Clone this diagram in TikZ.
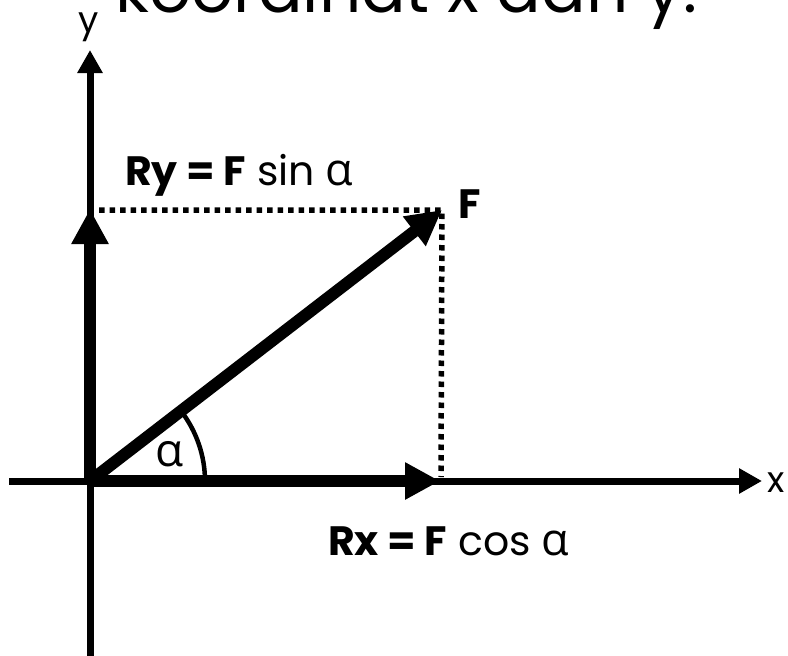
\documentclass[tikz,border=0pt]{standalone}
\usepackage{fontspec}
\setmainfont{Poppins}
\newfontfamily\gkfont{Open Sans}
\usetikzlibrary{arrows.meta}
\begin{document}
\begin{tikzpicture}[x=1pt,y=-1pt,
  axisline/.style={line width=7pt, -{Triangle[length=23pt,width=24pt]}},
  vec/.style={line width=12pt, -{Triangle[length=35pt,width=35pt]}},
  proj/.style={line width=5.5pt, dash pattern=on 5.5pt off 5pt},
  lbl/.style={font=\fontsize{41}{48}\selectfont, inner sep=0pt},
  axlbl/.style={font=\fontsize{36}{40}\selectfont, inner sep=0pt},
]
\useasboundingbox (0,0) rectangle (788,656);
\clip (0,0) rectangle (788,656);
% title (cut off at the top)
\node[anchor=base west, font=\fontsize{66}{72}\selectfont, inner sep=0pt] (title) at (115,12) {koordinat x dan y.};
% points
\coordinate (O) at (90,481);
\coordinate (xL) at (9,481);
\coordinate (xR) at (762,481);
\coordinate (yB) at (90,662);
\coordinate (yT) at (90,50);
\coordinate (Rx) at (440,481);
\coordinate (Ry) at (90,209);
\coordinate (Fp) at (442,210);
% axes
\draw[axisline] (xL) -- (xR);
\draw[axisline] (yB) -- (yT);
% projections
\draw[proj] (99,210) -- (Fp) -- (441,477);
% vectors
\draw[vec] (O) -- (Rx);
\draw[vec] (O) -- (Ry);
\draw[vec] (O) -- (Fp);
% angle arc
\draw[line width=4.5pt] (205,481) .. controls (205,456) and (196.5,431) .. (181,411);
% labels
\node[lbl, font=\fontsize{46}{50}\selectfont\gkfont, anchor=center] (alpha) at (170,454) {α};
\node[lbl, anchor=base west] (rylbl) at (125,185) {\textbf{Ry = F} sin {\fontsize{45}{48}\selectfont\gkfont α}};
\node[lbl, anchor=base west] (rxlbl) at (328,555) {\textbf{Rx = F} cos {\fontsize{45}{48}\selectfont\gkfont α}};
\node[lbl, anchor=base west] (flbl) at (458,218) {\textbf{F}};
\node[axlbl, anchor=west] (xlbl) at (767,483) {x};
\node[axlbl, anchor=base] (ylbl) at (89,32) {y};
\end{tikzpicture}
\end{document}
